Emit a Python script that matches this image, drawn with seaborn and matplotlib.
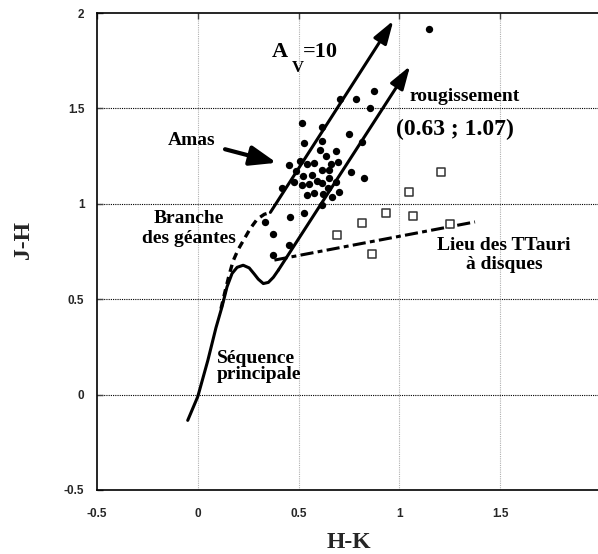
import matplotlib
matplotlib.use("Agg")
import matplotlib.pyplot as plt
import seaborn as sns
import pandas as pd

# cluster stars (filled dots)
amas_hk = [1.147, 0.874, 0.785, 0.707, 0.853, 0.515, 0.616, 0.750, 0.813, 0.528,
           0.618, 0.605, 0.687, 0.638, 0.452, 0.507, 0.543, 0.578, 0.661, 0.696,
           0.485, 0.523, 0.566, 0.614, 0.653, 0.479, 0.518, 0.553, 0.590, 0.618,
           0.649, 0.685, 0.760, 0.826, 0.419, 0.540, 0.578, 0.620, 0.646, 0.702,
           0.525, 0.618, 0.457, 0.333, 0.375, 0.452, 0.375, 0.664]
amas_jh = [1.915, 1.591, 1.548, 1.549, 1.504, 1.425, 1.402, 1.366, 1.322, 1.319,
           1.329, 1.282, 1.278, 1.251, 1.205, 1.223, 1.210, 1.216, 1.209, 1.219,
           1.174, 1.144, 1.153, 1.176, 1.179, 1.116, 1.099, 1.104, 1.121, 1.111,
           1.134, 1.116, 1.167, 1.134, 1.083, 1.048, 1.058, 1.053, 1.081, 1.064,
           0.950, 0.995, 0.931, 0.903, 0.840, 0.782, 0.730, 1.037]

# T Tauri stars (open squares)
tt_hk = [1.206, 1.046, 0.934, 1.066, 0.816, 0.692, 0.864, 1.252]
tt_jh = [1.165, 1.062, 0.953, 0.936, 0.901, 0.835, 0.738, 0.892]

# main sequence (solid curve)
ms_hk = [-0.05, 0.0, 0.05, 0.09, 0.12, 0.145, 0.17, 0.195, 0.225, 0.255, 0.28,
         0.30, 0.325, 0.35, 0.375, 0.40]
ms_jh = [-0.135, -0.01, 0.18, 0.35, 0.46, 0.565, 0.635, 0.667, 0.678, 0.664,
         0.632, 0.605, 0.582, 0.588, 0.615, 0.653]

# giant branch (dashed curve)
gb_hk = [0.115, 0.135, 0.155, 0.175, 0.20, 0.23, 0.26, 0.295, 0.33, 0.36]
gb_jh = [0.45, 0.54, 0.625, 0.70, 0.76, 0.815, 0.87, 0.92, 0.945, 0.955]

# reddening vectors A_V = 10 (start -> end)
av_hk0 = [0.36, 0.40]
av_jh0 = [0.955, 0.653]
av_hk1 = [0.97, 1.053]
av_jh1 = [1.96, 1.722]

# classical T Tauri locus
ctts_hk = [0.38, 1.375]
ctts_jh = [0.705, 0.905]

x_ticks = [-0.5, 0, 0.5, 1, 1.5, 2]
x_labels = ["-0.5", "0", "0.5", "1", "1.5", "2"]
y_ticks = [-0.5, 0, 0.5, 1, 1.5, 2]
y_labels = ["-0.5", "0", "0.5", "1", "1.5", "2"]

sns.set_style("white")
plt.rcParams['font.family'] = ['Liberation Serif', 'DejaVu Serif']

fig = plt.figure(figsize=(5.98, 5.54), dpi=100)
ax = fig.add_axes([97 / 598, 64 / 554, 504 / 598, 477 / 554])

# grid
for v in [0, 0.5, 1, 1.5]:
    ax.axhline(v, color="black", lw=0.8, ls=(0, (1, 1)), zorder=0)
    ax.axvline(v, color="#b0b0b0", lw=0.8, ls=(0, (1, 1)), zorder=0)

# curves
sns.lineplot(x=ms_hk, y=ms_jh, sort=False, color="black", lw=2.2, ax=ax)
ax.plot(gb_hk, gb_jh, color="black", lw=2.4, ls=(0, (2.2, 1.6)))
ax.plot(ctts_hk, ctts_jh, color="black", lw=2.2, ls=(0, (4.3, 1.4, 1.6, 1.4)))

for i in range(len(av_hk0)):
    ax.annotate("", xy=(av_hk1[i], av_jh1[i]), xytext=(av_hk0[i], av_jh0[i]),
                arrowprops=dict(arrowstyle="-|>,head_length=1.4,head_width=0.45",
                                mutation_scale=10, lw=2.2, color="black",
                                shrinkA=0, shrinkB=0))

# points
sns.scatterplot(x=amas_hk, y=amas_jh, color="black", s=28, edgecolor="black",
                linewidth=0, ax=ax, zorder=5)
sns.scatterplot(x=tt_hk, y=tt_jh, marker="s", s=30, facecolor="white",
                edgecolor="#333333", linewidth=1.1, ax=ax, zorder=5)

# annotations
bold = dict(fontweight="bold", color="black")
ax.text(0.408, 1.771, "A", fontsize=16, ha="center", va="baseline", **bold)
ax.text(0.497, 1.692, "V", fontsize=12, ha="center", va="baseline", **bold)
ax.text(0.522, 1.771, "=10", fontsize=16, ha="left", va="baseline", **bold)
ax.text(1.325, 1.540, "rougissement", fontsize=14, ha="center", va="baseline", **bold)
ax.text(1.276, 1.361, "(0.63 ; 1.07)", fontsize=17, ha="center", va="baseline", **bold)
ax.text(-0.03, 1.308, "Amas", fontsize=14, ha="center", va="baseline", **bold)
ax.text(-0.045, 0.901, "Branche", fontsize=14, ha="center", va="baseline", **bold)
ax.text(-0.045, 0.796, "des géantes", fontsize=14, ha="center", va="baseline", **bold)
ax.text(0.095, 0.167, "Séquence", fontsize=14, ha="left", va="baseline", **bold)
ax.text(0.095, 0.080, "principale", fontsize=14, ha="left", va="baseline", **bold)
ax.text(1.519, 0.758, "Lieu des TTauri", fontsize=14, ha="center", va="baseline", **bold)
ax.text(1.519, 0.657, "à disques", fontsize=14, ha="center", va="baseline", **bold)

ax.annotate("", xy=(0.391, 1.215), xytext=(0.135, 1.286),
            arrowprops=dict(arrowstyle="-|>,head_length=1.6,head_width=0.6",
                            mutation_scale=10, lw=3, color="black",
                            shrinkA=0, shrinkB=0))

# axes
ax.set_xlim(-0.5, 2)
ax.set_ylim(-0.5, 2)
ax.set_xticks(x_ticks)
ax.set_xticklabels(x_labels)
ax.set_yticks(y_ticks)
ax.set_yticklabels(y_labels)
for lab in ax.get_xticklabels() + ax.get_yticklabels():
    lab.set_fontfamily("Liberation Sans")
    lab.set_fontweight("bold")
    lab.set_fontsize(8.5)
ax.tick_params(axis="x", direction="in", length=4, width=1, top=True, pad=13, color="#444444")
ax.tick_params(axis="y", direction="in", length=4, width=1, left=True, pad=9, color="#444444")
ax.spines["right"].set_visible(False)
for s in ["left", "bottom", "top"]:
    ax.spines[s].set_color("black")
    ax.spines[s].set_linewidth(1.2)

ax.set_xlabel("H-K", fontsize=17, fontweight="bold")
ax.set_ylabel("J-H", fontsize=17, fontweight="bold")
ax.xaxis.set_label_coords(0.5, -0.088)
ax.yaxis.set_label_coords(-0.125, 0.524)

fig.savefig("out.png", dpi=100)
